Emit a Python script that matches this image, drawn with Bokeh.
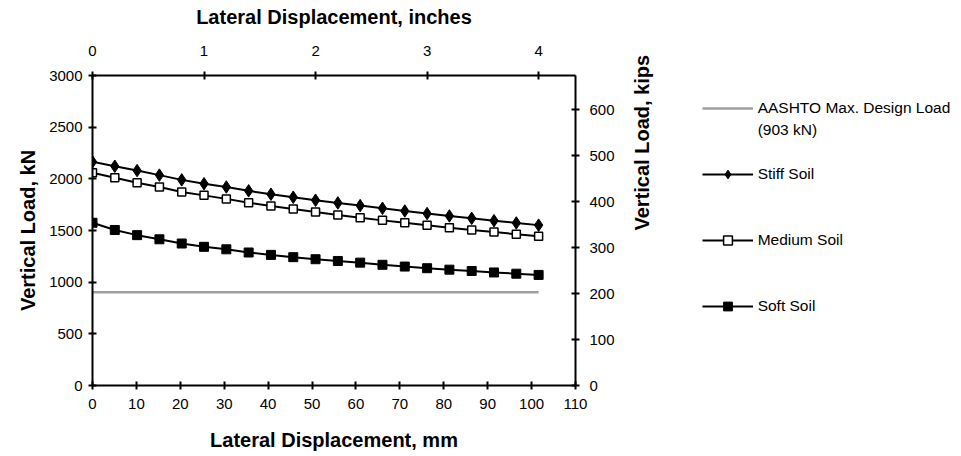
import numpy as np
from bokeh.plotting import figure
from bokeh.models import Range1d, LinearAxis, Legend, LegendItem, FixedTicker
from bokeh.embed import file_html
from bokeh.resources import INLINE

# ---- data ----
disp_in = [0.0, 0.2, 0.4, 0.6, 0.8, 1.0, 1.2, 1.4, 1.6, 1.8, 2.0,
           2.2, 2.4, 2.6, 2.8, 3.0, 3.2, 3.4, 3.6, 3.8, 4.0]
MM_PER_IN = 25.4
KN_PER_KIP = 4.448222
disp_mm = [d * MM_PER_IN for d in disp_in]

stiff_kN = [2165, 2122, 2080, 2036, 1990, 1953, 1921, 1884, 1851, 1822, 1793,
            1767, 1741, 1715, 1689, 1664, 1641, 1618, 1595, 1573, 1552]
medium_kN = [2058, 2010, 1962, 1920, 1873, 1840, 1806, 1769, 1737, 1709, 1680,
             1649, 1623, 1598, 1574, 1550, 1527, 1505, 1485, 1464, 1444]
soft_kN = [1575, 1505, 1455, 1415, 1374, 1342, 1318, 1287, 1264, 1242, 1222,
           1205, 1189, 1168, 1151, 1135, 1121, 1108, 1094, 1082, 1070]
aashto_kN = 903
aashto_x = [disp_mm[0], disp_mm[-1]]

x_ticks_mm = [0, 10, 20, 30, 40, 50, 60, 70, 80, 90, 100, 110]
x_ticks_in = [0, 1, 2, 3, 4]
y_ticks_kN = [0, 500, 1000, 1500, 2000, 2500, 3000]
y_ticks_kips = [0, 100, 200, 300, 400, 500, 600]

FONT = "Liberation Sans"
TICK_FS = "15px"
TITLE_FS = "20px"
LEG_FS = "15.5px"

p = figure(frame_width=483, frame_height=310,
           x_range=Range1d(0, 110), y_range=Range1d(0, 3000),
           output_backend="svg", toolbar_location=None,
           min_border_left=92, min_border_top=75, min_border_bottom=71,
           min_border_right=386,
           x_axis_label="Lateral Displacement, mm",
           y_axis_label="Vertical Load, kN")
p.outline_line_color = None
p.xgrid.visible = False
p.ygrid.visible = False
p.background_fill_color = "white"
p.border_fill_color = "white"

p.extra_x_ranges = {"in": Range1d(0, 110 / MM_PER_IN)}
p.extra_y_ranges = {"kips": Range1d(0, 3000 / KN_PER_KIP)}

bottom_axis = p.below[0]
left_axis = p.left[0]
top_axis = LinearAxis(x_range_name="in", axis_label="Lateral Displacement, inches")
right_axis = LinearAxis(y_range_name="kips", axis_label="Vertical Load, kips")
p.add_layout(top_axis, "above")
p.add_layout(right_axis, "right")

bottom_axis.ticker = FixedTicker(ticks=x_ticks_mm)
left_axis.ticker = FixedTicker(ticks=y_ticks_kN)
top_axis.ticker = FixedTicker(ticks=x_ticks_in)
right_axis.ticker = FixedTicker(ticks=y_ticks_kips)

for ax in [bottom_axis, left_axis, top_axis, right_axis]:
    ax.axis_line_width = 2
    ax.axis_line_color = "black"
    ax.major_tick_line_width = 2
    ax.major_tick_line_color = "black"
    ax.major_tick_in = 4
    ax.major_tick_out = 4
    ax.minor_tick_line_color = None
    ax.major_label_text_font = FONT
    ax.major_label_text_font_size = TICK_FS
    ax.major_label_text_color = "black"
    ax.axis_label_text_font = FONT
    ax.axis_label_text_font_size = TITLE_FS
    ax.axis_label_text_font_style = "bold"
    ax.axis_label_text_color = "black"

left_axis.major_label_standoff = 6
left_axis.axis_label_standoff = 7
bottom_axis.major_label_standoff = 9
bottom_axis.axis_label_standoff = 17
top_axis.major_label_standoff = 16
top_axis.axis_label_standoff = 15
right_axis.major_label_standoff = 10
right_axis.axis_label_standoff = 24
right_axis.axis_label_orientation = np.pi / 2

# ---- glyphs ----
r_aashto = p.line(aashto_x, [aashto_kN, aashto_kN], line_color="#a0a0a0", line_width=2.5)

l_stiff = p.line(disp_mm, stiff_kN, line_color="black", line_width=2)
m_stiff = p.scatter(disp_mm, stiff_kN, marker="diamond", size=12.5,
                    fill_color="black", line_color="black", line_width=1)
l_med = p.line(disp_mm, medium_kN, line_color="black", line_width=2)
m_med = p.scatter(disp_mm, medium_kN, marker="square", size=8,
                  fill_color="white", line_color="black", line_width=1.5)
l_soft = p.line(disp_mm, soft_kN, line_color="black", line_width=2)
m_soft = p.scatter(disp_mm, soft_kN, marker="square", size=9,
                   fill_color="black", line_color="black")

# invisible placeholder used for the second text line and for spacing rows
blank = p.line([], [], line_alpha=0)

items = [
    LegendItem(label="AASHTO Max. Design Load", renderers=[r_aashto]),
    LegendItem(label="(903 kN)", renderers=[blank]),
    LegendItem(label=" ", renderers=[blank]),
    LegendItem(label="Stiff Soil", renderers=[l_stiff, m_stiff]),
    LegendItem(label=" ", renderers=[blank]),
    LegendItem(label=" ", renderers=[blank]),
    LegendItem(label="Medium Soil", renderers=[l_med, m_med]),
    LegendItem(label=" ", renderers=[blank]),
    LegendItem(label=" ", renderers=[blank]),
    LegendItem(label="Soft Soil", renderers=[l_soft, m_soft]),
]
leg = Legend(items=items, location=(-189, 68), spacing=0, padding=0, margin=0,
             border_line_color=None, background_fill_alpha=0,
             glyph_width=51, glyph_height=22, label_height=22, label_standoff=5,
             label_text_font=FONT, label_text_font_size=LEG_FS,
             label_text_color="black")
p.add_layout(leg, "right")

open("out.html", "w").write(file_html(p, INLINE))
